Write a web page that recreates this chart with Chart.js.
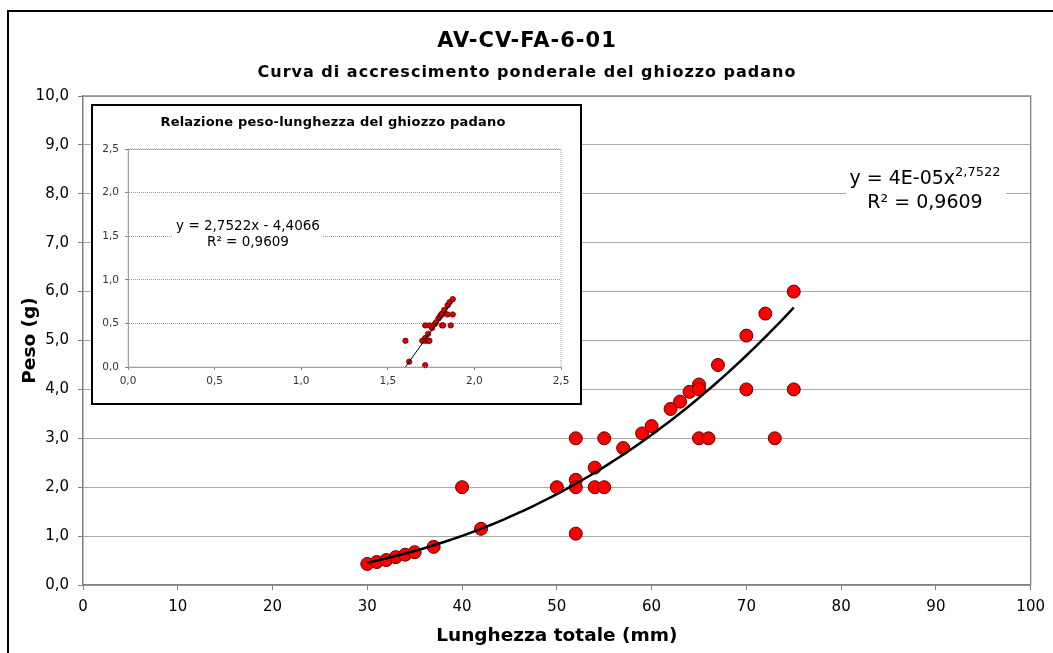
<!DOCTYPE html>
<html>
<head>
<meta charset="utf-8">
<script src="https://cdn.jsdelivr.net/npm/chart.js@4/dist/chart.umd.min.js"></script>
<style>
  html, body { margin: 0; padding: 0; background: #fff; }
  #wrap { position: relative; width: 1053px; height: 653px; overflow: hidden; background: #fff; }
  #main { position: absolute; left: 0; top: 0; }
  #frame { position: absolute; left: 7px; top: 10px; width: 1100px; height: 700px; border: 2px solid #000; pointer-events: none; }
  #insetBox { position: absolute; left: 91px; top: 104px; width: 487px; height: 297px; border: 2px solid #000; background: #fff; }
  #inset { position: absolute; left: 0; top: 0; }
</style>
</head>
<body>
<div id="wrap">
  <canvas id="main" width="1053" height="653"></canvas>
  <div id="frame"></div>
  <div id="insetBox"><canvas id="inset" width="487" height="297"></canvas></div>
</div>
<script>
// ---- Data ----
const lengthMm = [30,31,32,33,34,35,37,40,42,50,52,52,52,52,54,54,55,55,57,59,60,62,63,64,65,65,65,66,67,70,70,72,73,75,75];
const weightG  = [0.43,0.47,0.51,0.57,0.62,0.67,0.78,2.0,1.15,2.0,3.0,2.15,2.0,1.05,2.4,2.0,2.0,3.0,2.8,3.1,3.25,3.6,3.75,3.95,4.1,4.0,3.0,3.0,4.5,5.1,4.0,5.55,3.0,6.0,4.0];

// Trendline (power fit shown on the chart; log10 form in the inset)
const trendSlope = 2.7522;
const trendIntercept = -4.4066;
const trendR2Text = 'R² = 0,9609';

// Titles and labels
const mainTitle = 'AV-CV-FA-6-01';
const mainSubtitle = 'Curva di accrescimento ponderale del ghiozzo padano';
const xAxisTitle = 'Lunghezza totale (mm)';
const yAxisTitle = 'Peso (g)';
const insetTitle = 'Relazione peso-lunghezza del ghiozzo padano';
const xTickLabels = ['0','10','20','30','40','50','60','70','80','90','100'];
const yTickLabels = ['0,0','1,0','2,0','3,0','4,0','5,0','6,0','7,0','8,0','9,0','10,0'];
const insetTickLabels = ['0,0','0,5','1,0','1,5','2,0','2,5'];

const FONT = "'DejaVu Sans', Verdana, sans-serif";

// ---- Derived series ----
const mainPoints = lengthMm.map((x, i) => ({ x: x, y: weightG[i] }));
const trendStart = Math.min(...lengthMm), trendEnd = Math.max(...lengthMm);
const trendCoef = Math.pow(10, trendIntercept);
const trendPoints = [];
for (let x = trendStart; x <= trendEnd; x += 0.5) trendPoints.push({ x: x, y: trendCoef * Math.pow(x, trendSlope) });

const logPoints = lengthMm.map((x, i) => ({ x: Math.log10(x), y: Math.log10(weightG[i]) }));
const logX0 = -trendIntercept / trendSlope;
const logX1 = Math.log10(trendEnd);
const logTrend = [{ x: logX0, y: 0 }, { x: logX1, y: trendSlope * logX1 + trendIntercept }];

// ---- Main chart ----
const mainDecor = {
  id: 'mainDecor',
  afterDraw(chart) {
    const ctx = chart.ctx, a = chart.chartArea;
    ctx.save();
    // plot area frame (top/right)
    ctx.strokeStyle = '#8c8c8c';
    ctx.lineWidth = 1.5;
    ctx.beginPath();
    ctx.moveTo(a.left, a.top); ctx.lineTo(a.right, a.top); ctx.lineTo(a.right, a.bottom);
    ctx.stroke();
    // titles
    ctx.fillStyle = '#000';
    ctx.textAlign = 'center';
    ctx.textBaseline = 'middle';
    ctx.letterSpacing = '1px';
    ctx.font = 'bold 21px ' + FONT;
    ctx.fillText(mainTitle, 527, 42);
    ctx.font = 'bold 16px ' + FONT;
    ctx.fillText(mainSubtitle, 527, 73);
    ctx.letterSpacing = '0px';
    // equation label
    const cx = 925;
    ctx.fillStyle = '#fff';
    ctx.fillRect(846, 162, 160, 52);
    ctx.fillStyle = '#000';
    ctx.font = '19px ' + FONT;
    const base = 'y = 4E-05x';
    const sup = trendSlope.toFixed(4).replace('.', ',');
    const wBase = ctx.measureText(base).width;
    ctx.font = '13px ' + FONT;
    const wSup = ctx.measureText(sup).width;
    const startX = cx - (wBase + wSup) / 2;
    ctx.textAlign = 'left';
    ctx.textBaseline = 'alphabetic';
    ctx.font = '19px ' + FONT;
    ctx.fillText(base, startX, 184);
    ctx.font = '13px ' + FONT;
    ctx.fillText(sup, startX + wBase, 176);
    ctx.textAlign = 'center';
    ctx.font = '19px ' + FONT;
    ctx.fillText(trendR2Text, cx, 208);
    ctx.restore();
  }
};

new Chart(document.getElementById('main'), {
  type: 'scatter',
  data: {
    datasets: [
      {
        type: 'line',
        data: trendPoints,
        borderColor: '#000',
        borderWidth: 2.5,
        pointRadius: 0,
        fill: false,
        tension: 0
      },
      {
        data: mainPoints,
        backgroundColor: '#ff0000',
        borderColor: '#5a0000',
        borderWidth: 1,
        pointRadius: 6.5,
        pointHoverRadius: 6.5
      }
    ]
  },
  options: {
    responsive: false,
    animation: false,
    events: [],
    layout: { padding: { left: 9, top: 96, right: 21, bottom: 0 } },
    plugins: { legend: { display: false }, tooltip: { enabled: false }, title: { display: false } },
    scales: {
      x: {
        type: 'linear', min: 0, max: 100,
        afterFit(s) { s.height = 68; },
        ticks: {
          stepSize: 10, padding: 8, color: '#000', maxRotation: 0,
          font: { family: FONT, size: 15 },
          callback: (v) => xTickLabels[Math.round(v / 10)]
        },
        grid: { drawOnChartArea: false, drawTicks: true, tickLength: 5, tickColor: '#808080', tickWidth: 1 },
        border: { display: true, color: '#808080', width: 1.5 },
        title: { display: true, text: xAxisTitle, color: '#000', font: { family: FONT, size: 18.5, weight: 'bold' }, padding: { top: 0, bottom: 6 } }
      },
      y: {
        type: 'linear', min: 0, max: 10,
        afterFit(s) { s.width = 74; },
        ticks: {
          stepSize: 1, padding: 9, color: '#000',
          font: { family: FONT, size: 15 },
          callback: (v) => yTickLabels[Math.round(v)]
        },
        grid: { drawOnChartArea: true, drawTicks: true, tickLength: 5, color: '#555', lineWidth: 1, tickColor: '#808080', tickWidth: 1 },
        border: { display: true, color: '#808080', width: 1.5, dash: [1, 1] },
        title: { display: true, text: yAxisTitle, color: '#000', font: { family: FONT, size: 18.5, weight: 'bold' }, padding: { top: 10, bottom: 0 } }
      }
    }
  },
  plugins: [mainDecor]
});

// ---- Inset chart ----
const insetDecor = {
  id: 'insetDecor',
  afterDraw(chart) {
    const ctx = chart.ctx, a = chart.chartArea;
    ctx.save();
    ctx.strokeStyle = '#a0a0a0';
    ctx.lineWidth = 1;
    ctx.setLineDash([1, 1]);
    ctx.strokeRect(a.left, a.top, a.right - a.left, a.bottom - a.top);
    ctx.setLineDash([]);
    ctx.fillStyle = '#000';
    ctx.textAlign = 'center';
    ctx.textBaseline = 'middle';
    ctx.letterSpacing = '0.2px';
    ctx.font = 'bold 13px ' + FONT;
    ctx.fillText(insetTitle, 240, 17);
    ctx.restore();
  },
  afterDatasetsDraw(chart) {
    const ctx = chart.ctx;
    ctx.save();
    ctx.fillStyle = '#fff';
    ctx.fillRect(80, 107, 150, 42);
    ctx.fillStyle = '#000';
    ctx.textAlign = 'center';
    ctx.textBaseline = 'middle';
    ctx.font = '13.5px ' + FONT;
    const slopeTxt = trendSlope.toFixed(4).replace('.', ',');
    const intTxt = Math.abs(trendIntercept).toFixed(4).replace('.', ',');
    ctx.fillText('y = ' + slopeTxt + 'x - ' + intTxt, 155, 120);
    ctx.fillText(trendR2Text, 155, 136);
    ctx.restore();
  }
};

new Chart(document.getElementById('inset'), {
  type: 'scatter',
  data: {
    datasets: [
      {
        type: 'line',
        data: logTrend,
        borderColor: '#000',
        borderWidth: 1,
        pointRadius: 0,
        fill: false
      },
      {
        data: logPoints,
        backgroundColor: '#e00000',
        borderColor: '#600000',
        borderWidth: 0.8,
        pointRadius: 2.7,
        clip: { left: 5, right: 5, top: 5, bottom: 3 }
      }
    ]
  },
  options: {
    responsive: false,
    animation: false,
    events: [],
    layout: { padding: { left: 0, top: 43, right: 19, bottom: 0 } },
    plugins: { legend: { display: false }, tooltip: { enabled: false } },
    scales: {
      x: {
        type: 'linear', min: 0, max: 2.5,
        afterFit(s) { s.height = 36; },
        ticks: {
          stepSize: 0.5, padding: 5, color: '#333', maxRotation: 0,
          font: { family: FONT, size: 10.5 },
          callback: (v) => insetTickLabels[Math.round(v * 2)]
        },
        grid: { drawOnChartArea: false, drawTicks: true, tickLength: 3, tickColor: '#888' },
        border: { display: true, color: '#a0a0a0', width: 1 }
      },
      y: {
        type: 'linear', min: 0, max: 2.5,
        afterFit(s) { s.width = 35; },
        ticks: {
          stepSize: 0.5, padding: 6, color: '#333',
          font: { family: FONT, size: 10.5 },
          callback: (v) => insetTickLabels[Math.round(v * 2)]
        },
        grid: { drawOnChartArea: true, drawTicks: true, tickLength: 3, color: '#9a9a9a', lineWidth: 1, tickColor: '#888' },
        border: { display: true, color: '#a0a0a0', width: 1, dash: [1, 1] }
      }
    }
  },
  plugins: [insetDecor]
});
</script>
</body>
</html>
